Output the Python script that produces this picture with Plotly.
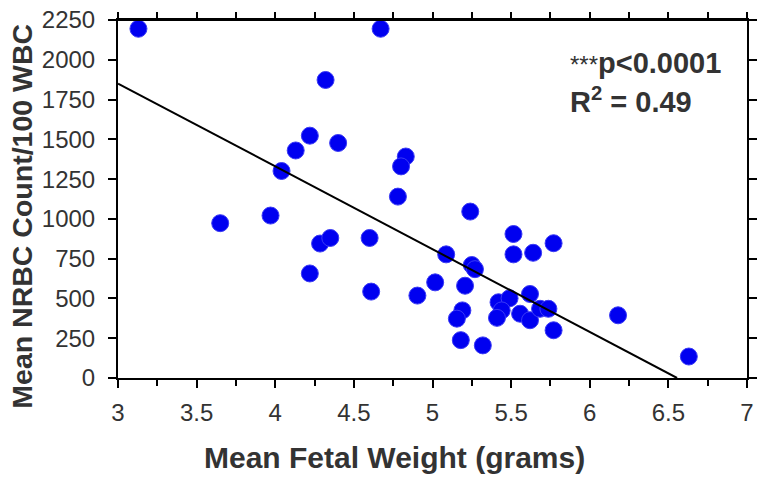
import numpy as np
import plotly.graph_objects as go

# mean fetal weight (g) and mean NRBC count per 100 WBC
fetal_weight = [3.13, 4.67, 4.32, 4.22, 4.13, 4.40, 4.04, 4.83, 4.80, 4.78,
                3.65, 3.97, 4.285, 4.35, 4.60, 4.22, 4.61, 5.24, 5.515, 5.77,
                5.515, 5.64, 5.087, 5.25, 5.27, 5.017, 5.207, 4.904, 5.62, 5.42,
                5.49, 5.44, 5.41, 5.557, 5.62, 5.684, 5.737, 5.19, 5.155, 6.18,
                5.77, 5.18, 5.32, 6.63]
nrbc_count = [2195, 2195, 1873, 1523, 1430, 1477, 1301, 1392, 1330, 1140,
              973, 1021, 845, 880, 880, 657, 543, 1046, 905, 847,
              777, 787, 777, 710, 684, 601, 580, 518, 528, 476,
              501, 425, 378, 404, 363, 435, 435, 425, 373, 394,
              300, 238, 205, 135]

# regression line y = fit_intercept + fit_slope * x
fit_intercept = 3412
fit_slope = -520.5

x_ticks = [3, 3.5, 4, 4.5, 5, 5.5, 6, 6.5, 7]
y_ticks = [0, 250, 500, 750, 1000, 1250, 1500, 1750, 2000, 2250]

line_x = np.array([3, -fit_intercept / fit_slope])
line_y = fit_intercept + fit_slope * line_x

font_txt = "Liberation Sans, Arial, sans-serif"
grey = "#333333"

fig = go.Figure()
# the fit line sits on a top twin axis so that the top frame gets its own ticks
fig.add_trace(go.Scatter(x=line_x, y=line_y, mode="lines", xaxis="x2",
                         line=dict(color="black", width=2), hoverinfo="skip"))
fig.add_trace(go.Scatter(x=fetal_weight, y=nrbc_count, mode="markers",
                         marker=dict(color="#0000f0", size=17,
                                     line=dict(color="#3a3af5", width=1))))

fig.add_annotation(x=0.715, y=0.88, xref="paper", yref="paper", showarrow=False,
                   xanchor="left", yanchor="middle",
                   text="<span style='font-size:24px;font-weight:normal'>***</span>p&lt;0.0001",
                   font=dict(family=font_txt, size=29, color=grey, weight="bold"))
fig.add_annotation(x=0.715, y=0.777, xref="paper", yref="paper", showarrow=False,
                   xanchor="left", yanchor="middle",
                   text="R<sup>2</sup> = 0.49",
                   font=dict(family=font_txt, size=29, color=grey, weight="bold"))

# axis titles sit off-centre in the original, so they are placed as annotations
fig.add_annotation(x=0.439, y=-0.222, xref="paper", yref="paper", showarrow=False,
                   xanchor="center", yanchor="middle",
                   text="<b>Mean Fetal Weight (grams)</b>",
                   font=dict(family=font_txt, size=30, color=grey))
fig.add_annotation(x=-0.154, y=0.451, xref="paper", yref="paper", showarrow=False,
                   xanchor="center", yanchor="middle",
                   textangle=-90, text="<b>Mean NRBC Count/100 WBC</b>",
                   font=dict(family=font_txt, size=28.5, color=grey))

# top frame line
fig.add_shape(type="line", xref="paper", yref="paper", x0=0, x1=1, y0=1, y1=1,
              line=dict(color="black", width=2))

axis_common = dict(showline=True, linecolor="black", linewidth=2,
                   ticks="outside", tickcolor="black", tickwidth=2, showgrid=False,
                   zeroline=False, automargin=False, ticklabeloverflow="allow",
                   tickfont=dict(family=font_txt, size=24, color=grey))

fig.update_layout(
    xaxis=dict(range=[3, 7], tickvals=x_ticks, ticklen=8, ticklabelstandoff=4,
               minor=dict(dtick=0.25, ticks="outside", ticklen=6,
                          tickcolor="black", tickwidth=2),
               **axis_common),
    xaxis2=dict(range=[3, 7], overlaying="x", side="top", dtick=0.25, ticklen=6,
                showticklabels=False, showline=True, linecolor="black", linewidth=2,
                ticks="outside", tickcolor="black", tickwidth=2, showgrid=False,
                zeroline=False, automargin=False),
    yaxis=dict(range=[0, 2250], tickvals=y_ticks, ticklen=8, ticklabelstandoff=8,
               mirror="allticks", **axis_common),
)

# page body adds an 8px offset, so margins are set 8px short on the left/top
fig.update_layout(width=767, height=484, showlegend=False,
                  plot_bgcolor="white", paper_bgcolor="white",
                  margin=dict(l=110, r=28, t=12, b=114))

fig.write_html("out.html")
